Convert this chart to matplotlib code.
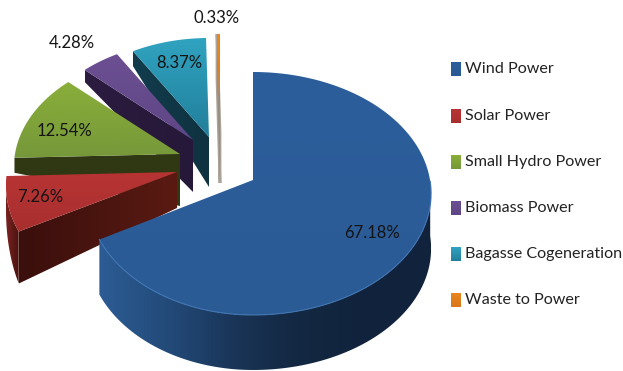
import numpy as np
import matplotlib
matplotlib.use('Agg')
import matplotlib.pyplot as plt
from matplotlib.colors import LinearSegmentedColormap
from matplotlib.patches import Polygon

# Installed capacity shares (%)
names = ['Wind Power', 'Solar Power', 'Small Hydro Power', 'Biomass Power',
         'Bagasse Cogeneration', 'Waste to Power']
shares = [67.18, 7.26, 12.54, 4.28, 8.37, 0.33]

# Slice layout: apex of each exploded slice, radii and extrusion depths
apex_x = [253, 177, 180, 193, 209, 220]
apex_y = [180, 172, 154, 140, 137, 133]
rx_left = [165, 170, 165, 160, 160, 160]
rx_right = [177, 170, 165, 160, 160, 160]
ry = [120, 120, 113, 110, 110, 110]
depth_apex = [55, 36, 52, 52, 50, 50]
depth_rim = [55, 52, 15, 12, 15, 45]
K = 0.111  # perspective

# Colours: top face light/dark, radial wall left/right, outer wall stops
top_hi = ['#2b5e9c', '#b83434', '#8aae3a', '#6b4f92', '#30a3c0', '#e8861f']
top_lo = ['#2b5b95', '#a82e2e', '#76983a', '#5f4686', '#217f9b', '#d9761a']
wall_left = ['#2c5c94', '#3a0f0c', '#2f3812', '#2c1c40', '#123c4c', '#8a8a8a']
wall_right = ['#11233c', '#5a1a12', '#2f3812', '#261838', '#0f3240', '#8a8a8a']
rim_wind = ['#2c5c94', '#234b7a', '#1a3558', '#132842', '#11233c', '#11233c']
rim_solar = ['#7a2220', '#4a1310']
label_xy = [(372, 233), (40, 197), (64, 131), (72, 43), (179, 63), (217, 18)]
legend_y = [69, 116, 162, 208, 254, 300]

plt.rcParams['font.family'] = ['Lato', 'DejaVu Sans']

fig = plt.figure(figsize=(6.23, 3.71), dpi=100)
ax = fig.add_axes([0, 0, 1, 1])
ax.set_xlim(0, 623)
ax.set_ylim(371, 0)
ax.axis('off')


def rim(i, t):
    u, v = np.cos(np.radians(t)), np.sin(np.radians(t))
    s = 1 / (1 + K * v)
    r = np.where(u < 0, rx_left[i], rx_right[i])
    return apex_x[i] + r * u * s, apex_y[i] - ry[i] * v * s


def gradient_fill(poly, colors, z, horizontal=False):
    # linear gradient clipped to the polygon
    cmap = LinearSegmentedColormap.from_list('g', colors)
    x0, x1 = poly[:, 0].min(), poly[:, 0].max()
    y0, y1 = poly[:, 1].min(), poly[:, 1].max()
    ramp = np.linspace(0, 1, 128)
    ramp = ramp.reshape(1, -1) if horizontal else ramp.reshape(-1, 1)
    im = ax.imshow(ramp, cmap=cmap, aspect='auto', extent=(x0, x1, y1, y0), zorder=z)
    im.set_clip_path(Polygon(poly, transform=ax.transData))


total = sum(shares)
ends = 90 - 360 * np.cumsum(shares) / total
starts = np.r_[90, ends[:-1]]

# Draw from the back slice to the front one
for z, i in enumerate([5, 4, 3, 2, 1, 0]):
    t = np.linspace(ends[i], starts[i], 300)
    if i > 0:
        t = np.where(t < -90, t + 360, t)
        t = np.sort(t)
    x, y = rim(i, t)
    base = z * 10

    # outer wall, only the wind and solar slices show one
    sin_t = np.sin(np.radians(t))
    front = sin_t < -0.01
    if i < 2:
        drop = depth_rim[i] * np.ones(front.sum())
        if i == 1:
            # the solar wall narrows towards its far corner
            drop = depth_rim[i] * (-sin_t[front] / -sin_t[front].min()) ** 0.6
        wall = np.column_stack([np.r_[x[front], x[front][::-1]],
                                np.r_[y[front], (y[front] + drop)[::-1]]])
        gradient_fill(wall, rim_solar if i == 1 else rim_wind, base, horizontal=True)

    # radial wall on the high-angle edge
    if i > 0:
        wall = np.array([(apex_x[i], apex_y[i]), (x[-1], y[-1]),
                         (x[-1], y[-1] + depth_rim[i]),
                         (apex_x[i], apex_y[i] + depth_apex[i])])
        if i == 5:
            ax.add_patch(Polygon(wall, fc='#8f8578', ec='#8f8578', lw=2.0, alpha=0.75, zorder=base + 1))
        else:
            gradient_fill(wall, [wall_left[i], wall_right[i]], base + 1, horizontal=True)

    # top face
    poly = np.column_stack([np.r_[apex_x[i], x], np.r_[apex_y[i], y]])
    gradient_fill(poly, [top_hi[i], top_lo[i]], base + 2)
    if i == 0:
        ax.plot(x[front], y[front], color='#3f74b2', lw=0.8, zorder=base + 3)

    ax.text(label_xy[i][0], label_xy[i][1], f'{shares[i]:.2f}%', fontsize=12, color='#141414',
            ha='center', va='center', zorder=100)

    # legend key and name
    key = np.array([(451, legend_y[i] - 7), (461, legend_y[i] - 7),
                    (461, legend_y[i] + 7), (451, legend_y[i] + 7)])
    gradient_fill(key, [top_hi[i], top_lo[i]], 100)
    ax.text(465, legend_y[i], names[i], fontsize=11.6, color='#222222', ha='left', va='center', zorder=100)

ax.set_xlim(0, 623)
ax.set_ylim(371, 0)
fig.savefig('out.png', dpi=100)
